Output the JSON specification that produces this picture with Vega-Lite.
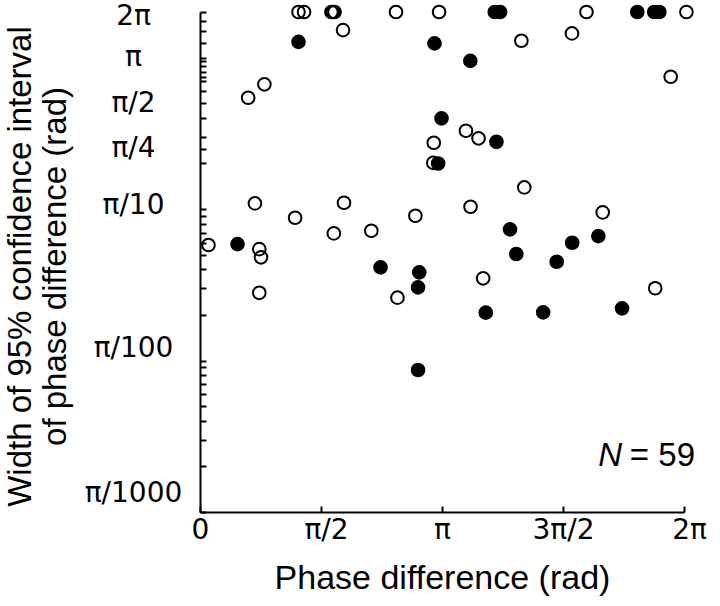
{
  "$schema": "https://vega.github.io/schema/vega-lite/v6.json",
  "width": 484,
  "height": 500,
  "autosize": {"type": "none"},
  "padding": {"left": 200, "top": 12, "right": 36, "bottom": 94},
  "background": "white",
  "config": {"view": {"stroke": null}, "axis": {"grid": false}},
  "layer": [
    {
      "data": {
        "values": [
          {"phase": 0.407, "ci_width": 2, "marker": "open"},
          {"phase": 0.430, "ci_width": 2, "marker": "open"},
          {"phase": 0.543, "ci_width": 2, "marker": "open"},
          {"phase": 0.549, "ci_width": 2, "marker": "open"},
          {"phase": 0.556, "ci_width": 2, "marker": "open"},
          {"phase": 0.810, "ci_width": 2, "marker": "open"},
          {"phase": 0.988, "ci_width": 2, "marker": "open"},
          {"phase": 1.597, "ci_width": 2, "marker": "open"},
          {"phase": 2.010, "ci_width": 2, "marker": "open"},
          {"phase": 0.591, "ci_width": 1.519, "marker": "open"},
          {"phase": 1.328, "ci_width": 1.291, "marker": "open"},
          {"phase": 1.537, "ci_width": 1.444, "marker": "open"},
          {"phase": 1.945, "ci_width": 0.747, "marker": "open"},
          {"phase": 0.266, "ci_width": 0.666, "marker": "open"},
          {"phase": 0.199, "ci_width": 0.543, "marker": "open"},
          {"phase": 1.099, "ci_width": 0.329, "marker": "open"},
          {"phase": 1.151, "ci_width": 0.293, "marker": "open"},
          {"phase": 0.966, "ci_width": 0.274, "marker": "open"},
          {"phase": 0.964, "ci_width": 0.202, "marker": "open"},
          {"phase": 1.340, "ci_width": 0.139, "marker": "open"},
          {"phase": 0.227, "ci_width": 0.109, "marker": "open"},
          {"phase": 0.595, "ci_width": 0.110, "marker": "open"},
          {"phase": 0.393, "ci_width": 0.0876, "marker": "open"},
          {"phase": 0.553, "ci_width": 0.0691, "marker": "open"},
          {"phase": 0.708, "ci_width": 0.0719, "marker": "open"},
          {"phase": 0.890, "ci_width": 0.0903, "marker": "open"},
          {"phase": 1.118, "ci_width": 0.1036, "marker": "open"},
          {"phase": 1.664, "ci_width": 0.0951, "marker": "open"},
          {"phase": 0.035, "ci_width": 0.0579, "marker": "open"},
          {"phase": 0.245, "ci_width": 0.0544, "marker": "open"},
          {"phase": 0.252, "ci_width": 0.048, "marker": "open"},
          {"phase": 0.245, "ci_width": 0.028, "marker": "open"},
          {"phase": 0.816, "ci_width": 0.026, "marker": "open"},
          {"phase": 1.170, "ci_width": 0.0349, "marker": "open"},
          {"phase": 1.881, "ci_width": 0.030, "marker": "open"},
          {"phase": 1.218, "ci_width": 2, "marker": "filled"},
          {"phase": 1.240, "ci_width": 2, "marker": "filled"},
          {"phase": 1.807, "ci_width": 2, "marker": "filled"},
          {"phase": 1.877, "ci_width": 2, "marker": "filled"},
          {"phase": 1.898, "ci_width": 2, "marker": "filled"},
          {"phase": 0.407, "ci_width": 1.271, "marker": "filled"},
          {"phase": 0.969, "ci_width": 1.241, "marker": "filled"},
          {"phase": 1.117, "ci_width": 0.952, "marker": "filled"},
          {"phase": 0.998, "ci_width": 0.397, "marker": "filled"},
          {"phase": 1.225, "ci_width": 0.278, "marker": "filled"},
          {"phase": 0.984, "ci_width": 0.200, "marker": "filled"},
          {"phase": 0.155, "ci_width": 0.0587, "marker": "filled"},
          {"phase": 0.746, "ci_width": 0.0412, "marker": "filled"},
          {"phase": 0.906, "ci_width": 0.0382, "marker": "filled"},
          {"phase": 0.901, "ci_width": 0.0304, "marker": "filled"},
          {"phase": 1.281, "ci_width": 0.0735, "marker": "filled"},
          {"phase": 1.307, "ci_width": 0.0505, "marker": "filled"},
          {"phase": 1.474, "ci_width": 0.0449, "marker": "filled"},
          {"phase": 1.538, "ci_width": 0.0599, "marker": "filled"},
          {"phase": 1.646, "ci_width": 0.0663, "marker": "filled"},
          {"phase": 1.181, "ci_width": 0.0207, "marker": "filled"},
          {"phase": 1.418, "ci_width": 0.0208, "marker": "filled"},
          {"phase": 1.744, "ci_width": 0.0221, "marker": "filled"},
          {"phase": 0.901, "ci_width": 0.00866, "marker": "filled"}
        ]
      },
      "mark": {"type": "point", "shape": "circle", "size": 160, "strokeWidth": 2, "stroke": "black", "filled": true, "color": "black", "opacity": 1},
      "encoding": {
        "x": {
          "field": "phase", "type": "quantitative",
          "scale": {"domain": [0, 2], "nice": false, "zero": false},
          "axis": {
            "values": [0, 0.5, 1, 1.5, 2],
            "labelExpr": "datum.value == 0 ? '0' : datum.value == 0.5 ? 'π/2' : datum.value == 1 ? 'π' : datum.value == 1.5 ? '3π/2' : '2π'",
            "labelOffset": {"condition": [{"test": "datum.value == 0.5", "value": 5}, {"test": "datum.value == 2", "value": 5}], "value": 0},
            "tickSize": -6, "tickWidth": 2, "tickColor": "black",
            "domainWidth": 2, "domainColor": "black",
            "labelFont": "DejaVu Sans", "labelFontSize": 28, "labelColor": "black",
            "labelPadding": 10, "labelFlush": false, "labelOverlap": false, "labelBound": false,
            "title": "Phase difference (rad)",
            "titleFont": "Liberation Sans", "titleFontSize": 34, "titleFontWeight": "normal", "titleColor": "black",
            "titleX": 242, "titleY": 76, "titleBaseline": "alphabetic", "titleAlign": "center"
          }
        },
        "y": {
          "field": "ci_width", "type": "quantitative",
          "scale": {"type": "log", "domain": [0.001, 2], "nice": false},
          "axis": {
            "values": [2, 1.75, 1.5, 1.25, 1, 0.95, 0.875, 0.8, 0.75, 0.7, 0.6, 0.5, 0.4, 0.3, 0.25, 0.2, 0.1, 0.09, 0.08, 0.07, 0.06, 0.05, 0.04, 0.03, 0.02, 0.01, 0.009, 0.008, 0.007, 0.006, 0.005, 0.004, 0.003, 0.002, 0.001],
            "labelExpr": "datum.value == 2 ? '2π' : datum.value == 1 ? 'π' : datum.value == 0.5 ? 'π/2' : datum.value == 0.25 ? 'π/4' : datum.value == 0.1 ? 'π/10' : datum.value == 0.01 ? 'π/100' : datum.value == 0.001 ? 'π/1000' : ''",
            "tickSize": -6, "tickWidth": 2, "tickColor": "black",
            "domainWidth": 2, "domainColor": "black",
            "labelFont": "DejaVu Sans", "labelFontSize": 28, "labelColor": "black",
            "labelAlign": "center", "labelBaseline": "middle", "labelPadding": 73,
            "labelOffset": {"condition": [{"test": "datum.value == 0.001", "value": -19}, {"test": "datum.value == 0.01", "value": -12}, {"test": "datum.value == 0.1", "value": -4}, {"test": "datum.value == 2", "value": 4}], "value": 0},
            "labelFlush": false, "labelOverlap": false, "labelBound": false,
            "title": ["Width of 95% confidence interval", "of phase difference (rad)"],
            "titleFont": "Liberation Sans", "titleFontSize": 33, "titleFontWeight": "normal", "titleColor": "black",
            "titleX": -170, "titleY": 254, "titleAngle": -90, "titleBaseline": "alphabetic", "titleAlign": "center", "titleLineHeight": 35
          }
        },
        "fillOpacity": {
          "field": "marker", "type": "nominal",
          "scale": {"domain": ["filled", "open"], "range": [1, 0]},
          "legend": null
        }
      }
    },
    {
      "data": {"values": [{"label": "= 59"}]},
      "mark": {"type": "text", "align": "right", "baseline": "middle", "font": "Liberation Sans", "fontSize": 33, "color": "black", "dx": 11},
      "encoding": {"text": {"field": "label"}, "x": {"datum": 2, "type": "quantitative"}, "y": {"datum": 0.00234, "type": "quantitative"}}
    },
    {
      "data": {"values": [{"label": "N"}]},
      "mark": {"type": "text", "fontStyle": "italic", "align": "right", "baseline": "middle", "font": "Liberation Sans", "fontSize": 33, "color": "black", "dx": -62},
      "encoding": {"text": {"field": "label"}, "x": {"datum": 2, "type": "quantitative"}, "y": {"datum": 0.00234, "type": "quantitative"}}
    }
  ]
}
